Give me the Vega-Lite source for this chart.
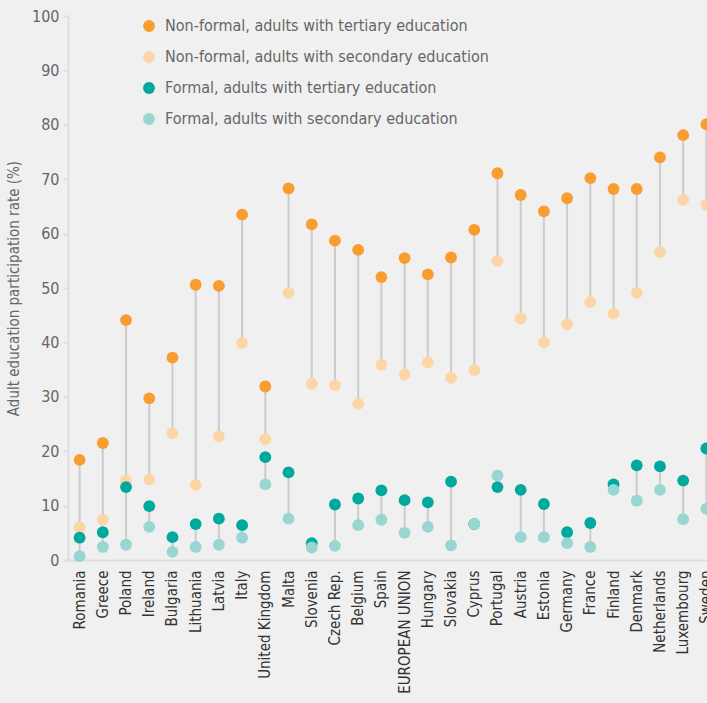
{
  "$schema": "https://vega.github.io/schema/vega-lite/v6.json",
  "autosize": {"type": "none"},
  "padding": {"left": 68, "top": 16, "right": 0, "bottom": 143},
  "width": 650,
  "height": 544,
  "background": "#f0f0f0",
  "config": {
    "view": {"stroke": null},
    "font": "Liberation Sans Narrow, DejaVu Sans Condensed, Roboto",
    "axis": {"labelFont": "Liberation Sans Narrow, DejaVu Sans Condensed, Roboto", "titleFont": "Liberation Sans Narrow, DejaVu Sans Condensed, Roboto"},
    "legend": {"labelFont": "Liberation Sans Narrow, DejaVu Sans Condensed, Roboto"}
  },
  "data": {"values": [
    {"country":"Romania","type":"NF","series":"Non-formal, adults with tertiary education","value":18.4},
    {"country":"Greece","type":"NF","series":"Non-formal, adults with tertiary education","value":21.5},
    {"country":"Poland","type":"NF","series":"Non-formal, adults with tertiary education","value":44.1},
    {"country":"Ireland","type":"NF","series":"Non-formal, adults with tertiary education","value":29.7},
    {"country":"Bulgaria","type":"NF","series":"Non-formal, adults with tertiary education","value":37.2},
    {"country":"Lithuania","type":"NF","series":"Non-formal, adults with tertiary education","value":50.6},
    {"country":"Latvia","type":"NF","series":"Non-formal, adults with tertiary education","value":50.4},
    {"country":"Italy","type":"NF","series":"Non-formal, adults with tertiary education","value":63.5},
    {"country":"United Kingdom","type":"NF","series":"Non-formal, adults with tertiary education","value":31.9},
    {"country":"Malta","type":"NF","series":"Non-formal, adults with tertiary education","value":68.3},
    {"country":"Slovenia","type":"NF","series":"Non-formal, adults with tertiary education","value":61.7},
    {"country":"Czech Rep.","type":"NF","series":"Non-formal, adults with tertiary education","value":58.7},
    {"country":"Belgium","type":"NF","series":"Non-formal, adults with tertiary education","value":57.0},
    {"country":"Spain","type":"NF","series":"Non-formal, adults with tertiary education","value":52.0},
    {"country":"EUROPEAN UNION","type":"NF","series":"Non-formal, adults with tertiary education","value":55.5},
    {"country":"Hungary","type":"NF","series":"Non-formal, adults with tertiary education","value":52.5},
    {"country":"Slovakia","type":"NF","series":"Non-formal, adults with tertiary education","value":55.6},
    {"country":"Cyprus","type":"NF","series":"Non-formal, adults with tertiary education","value":60.7},
    {"country":"Portugal","type":"NF","series":"Non-formal, adults with tertiary education","value":71.1},
    {"country":"Austria","type":"NF","series":"Non-formal, adults with tertiary education","value":67.1},
    {"country":"Estonia","type":"NF","series":"Non-formal, adults with tertiary education","value":64.1},
    {"country":"Germany","type":"NF","series":"Non-formal, adults with tertiary education","value":66.5},
    {"country":"France","type":"NF","series":"Non-formal, adults with tertiary education","value":70.2},
    {"country":"Finland","type":"NF","series":"Non-formal, adults with tertiary education","value":68.2},
    {"country":"Denmark","type":"NF","series":"Non-formal, adults with tertiary education","value":68.2},
    {"country":"Netherlands","type":"NF","series":"Non-formal, adults with tertiary education","value":74.0},
    {"country":"Luxembourg","type":"NF","series":"Non-formal, adults with tertiary education","value":78.1},
    {"country":"Sweden","type":"NF","series":"Non-formal, adults with tertiary education","value":80.1},

    {"country":"Romania","type":"NF","series":"Non-formal, adults with secondary education","value":6.0},
    {"country":"Greece","type":"NF","series":"Non-formal, adults with secondary education","value":7.4},
    {"country":"Poland","type":"NF","series":"Non-formal, adults with secondary education","value":14.6},
    {"country":"Ireland","type":"NF","series":"Non-formal, adults with secondary education","value":14.8},
    {"country":"Bulgaria","type":"NF","series":"Non-formal, adults with secondary education","value":23.3},
    {"country":"Lithuania","type":"NF","series":"Non-formal, adults with secondary education","value":13.8},
    {"country":"Latvia","type":"NF","series":"Non-formal, adults with secondary education","value":22.7},
    {"country":"Italy","type":"NF","series":"Non-formal, adults with secondary education","value":39.9},
    {"country":"United Kingdom","type":"NF","series":"Non-formal, adults with secondary education","value":22.2},
    {"country":"Malta","type":"NF","series":"Non-formal, adults with secondary education","value":49.1},
    {"country":"Slovenia","type":"NF","series":"Non-formal, adults with secondary education","value":32.4},
    {"country":"Czech Rep.","type":"NF","series":"Non-formal, adults with secondary education","value":32.1},
    {"country":"Belgium","type":"NF","series":"Non-formal, adults with secondary education","value":28.7},
    {"country":"Spain","type":"NF","series":"Non-formal, adults with secondary education","value":35.9},
    {"country":"EUROPEAN UNION","type":"NF","series":"Non-formal, adults with secondary education","value":34.1},
    {"country":"Hungary","type":"NF","series":"Non-formal, adults with secondary education","value":36.3},
    {"country":"Slovakia","type":"NF","series":"Non-formal, adults with secondary education","value":33.5},
    {"country":"Cyprus","type":"NF","series":"Non-formal, adults with secondary education","value":34.9},
    {"country":"Portugal","type":"NF","series":"Non-formal, adults with secondary education","value":55.0},
    {"country":"Austria","type":"NF","series":"Non-formal, adults with secondary education","value":44.4},
    {"country":"Estonia","type":"NF","series":"Non-formal, adults with secondary education","value":40.0},
    {"country":"Germany","type":"NF","series":"Non-formal, adults with secondary education","value":43.3},
    {"country":"France","type":"NF","series":"Non-formal, adults with secondary education","value":47.4},
    {"country":"Finland","type":"NF","series":"Non-formal, adults with secondary education","value":45.3},
    {"country":"Denmark","type":"NF","series":"Non-formal, adults with secondary education","value":49.1},
    {"country":"Netherlands","type":"NF","series":"Non-formal, adults with secondary education","value":56.6},
    {"country":"Luxembourg","type":"NF","series":"Non-formal, adults with secondary education","value":66.2},
    {"country":"Sweden","type":"NF","series":"Non-formal, adults with secondary education","value":65.3},

    {"country":"Romania","type":"F","series":"Formal, adults with tertiary education","value":4.1},
    {"country":"Greece","type":"F","series":"Formal, adults with tertiary education","value":5.1},
    {"country":"Poland","type":"F","series":"Formal, adults with tertiary education","value":13.4},
    {"country":"Ireland","type":"F","series":"Formal, adults with tertiary education","value":9.9},
    {"country":"Bulgaria","type":"F","series":"Formal, adults with tertiary education","value":4.2},
    {"country":"Lithuania","type":"F","series":"Formal, adults with tertiary education","value":6.6},
    {"country":"Latvia","type":"F","series":"Formal, adults with tertiary education","value":7.6},
    {"country":"Italy","type":"F","series":"Formal, adults with tertiary education","value":6.4},
    {"country":"United Kingdom","type":"F","series":"Formal, adults with tertiary education","value":18.9},
    {"country":"Malta","type":"F","series":"Formal, adults with tertiary education","value":16.1},
    {"country":"Slovenia","type":"F","series":"Formal, adults with tertiary education","value":3.1},
    {"country":"Czech Rep.","type":"F","series":"Formal, adults with tertiary education","value":10.2},
    {"country":"Belgium","type":"F","series":"Formal, adults with tertiary education","value":11.3},
    {"country":"Spain","type":"F","series":"Formal, adults with tertiary education","value":12.8},
    {"country":"EUROPEAN UNION","type":"F","series":"Formal, adults with tertiary education","value":11.0},
    {"country":"Hungary","type":"F","series":"Formal, adults with tertiary education","value":10.6},
    {"country":"Slovakia","type":"F","series":"Formal, adults with tertiary education","value":14.4},
    {"country":"Cyprus","type":"F","series":"Formal, adults with tertiary education","value":6.6},
    {"country":"Portugal","type":"F","series":"Formal, adults with tertiary education","value":13.4},
    {"country":"Austria","type":"F","series":"Formal, adults with tertiary education","value":12.9},
    {"country":"Estonia","type":"F","series":"Formal, adults with tertiary education","value":10.3},
    {"country":"Germany","type":"F","series":"Formal, adults with tertiary education","value":5.1},
    {"country":"France","type":"F","series":"Formal, adults with tertiary education","value":6.8},
    {"country":"Finland","type":"F","series":"Formal, adults with tertiary education","value":13.9},
    {"country":"Denmark","type":"F","series":"Formal, adults with tertiary education","value":17.4},
    {"country":"Netherlands","type":"F","series":"Formal, adults with tertiary education","value":17.2},
    {"country":"Luxembourg","type":"F","series":"Formal, adults with tertiary education","value":14.6},
    {"country":"Sweden","type":"F","series":"Formal, adults with tertiary education","value":20.5},

    {"country":"Romania","type":"F","series":"Formal, adults with secondary education","value":0.7},
    {"country":"Greece","type":"F","series":"Formal, adults with secondary education","value":2.4},
    {"country":"Poland","type":"F","series":"Formal, adults with secondary education","value":2.8},
    {"country":"Ireland","type":"F","series":"Formal, adults with secondary education","value":6.1},
    {"country":"Bulgaria","type":"F","series":"Formal, adults with secondary education","value":1.5},
    {"country":"Lithuania","type":"F","series":"Formal, adults with secondary education","value":2.4},
    {"country":"Latvia","type":"F","series":"Formal, adults with secondary education","value":2.8},
    {"country":"Italy","type":"F","series":"Formal, adults with secondary education","value":4.1},
    {"country":"United Kingdom","type":"F","series":"Formal, adults with secondary education","value":13.9},
    {"country":"Malta","type":"F","series":"Formal, adults with secondary education","value":7.6},
    {"country":"Slovenia","type":"F","series":"Formal, adults with secondary education","value":2.3},
    {"country":"Czech Rep.","type":"F","series":"Formal, adults with secondary education","value":2.6},
    {"country":"Belgium","type":"F","series":"Formal, adults with secondary education","value":6.4},
    {"country":"Spain","type":"F","series":"Formal, adults with secondary education","value":7.4},
    {"country":"EUROPEAN UNION","type":"F","series":"Formal, adults with secondary education","value":5.0},
    {"country":"Hungary","type":"F","series":"Formal, adults with secondary education","value":6.1},
    {"country":"Slovakia","type":"F","series":"Formal, adults with secondary education","value":2.7},
    {"country":"Cyprus","type":"F","series":"Formal, adults with secondary education","value":6.6},
    {"country":"Portugal","type":"F","series":"Formal, adults with secondary education","value":15.5},
    {"country":"Austria","type":"F","series":"Formal, adults with secondary education","value":4.2},
    {"country":"Estonia","type":"F","series":"Formal, adults with secondary education","value":4.2},
    {"country":"Germany","type":"F","series":"Formal, adults with secondary education","value":3.1},
    {"country":"France","type":"F","series":"Formal, adults with secondary education","value":2.4},
    {"country":"Finland","type":"F","series":"Formal, adults with secondary education","value":12.9},
    {"country":"Denmark","type":"F","series":"Formal, adults with secondary education","value":10.9},
    {"country":"Netherlands","type":"F","series":"Formal, adults with secondary education","value":12.9},
    {"country":"Luxembourg","type":"F","series":"Formal, adults with secondary education","value":7.5},
    {"country":"Sweden","type":"F","series":"Formal, adults with secondary education","value":9.4}
  ]},
  "encoding": {
    "x": {
      "field": "country", "type": "nominal", "sort": null,
      "scale": {"paddingInner": 0, "paddingOuter": 0},
      "axis": {
        "title": null, "labelAngle": -90, "labelAlign": "right", "labelBaseline": "middle",
        "labelFontSize": 15, "labelColor": "#333333", "labelPadding": 10, "labelLimit": 200,
        "ticks": false, "domain": true, "domainColor": "#dddddd", "domainWidth": 2, "grid": false
      }
    }
  },
  "layer": [
    {
      "mark": {"type": "rule", "color": "#cccccc", "strokeWidth": 2},
      "encoding": {
        "detail": {"field": "type"},
        "y": {"aggregate": "min", "field": "value", "type": "quantitative"},
        "y2": {"aggregate": "max", "field": "value"}
      }
    },
    {
      "mark": {"type": "point", "filled": true, "opacity": 1, "size": 140, "shape": "circle"},
      "encoding": {
        "y": {
          "field": "value", "type": "quantitative",
          "scale": {"domain": [0, 100], "nice": false},
          "axis": {
            "title": "Adult education participation rate (%)", "titleFontSize": 15, "titleFontWeight": "normal",
            "titleColor": "#666666", "titlePadding": 10,
            "values": [0,10,20,30,40,50,60,70,80,90,100],
            "labelFontSize": 16, "labelColor": "#666666", "labelPadding": 4,
            "domainColor": "#dddddd", "domainWidth": 2, "tickColor": "#dddddd", "tickSize": 5, "tickWidth": 2, "grid": false
          }
        },
        "color": {
          "field": "series", "type": "nominal", "sort": null,
          "scale": {
            "domain": ["Non-formal, adults with tertiary education", "Non-formal, adults with secondary education", "Formal, adults with tertiary education", "Formal, adults with secondary education"],
            "range": ["#f99d31", "#fdd6a8", "#00a99d", "#97d6d1"]
          },
          "legend": {
            "title": null, "orient": "none", "legendX": 73, "legendY": 2, "padding": 0,
            "symbolType": "circle", "symbolSize": 140, "symbolStrokeWidth": 0,
            "labelFontSize": 16, "labelColor": "#666666", "labelOffset": 8, "rowPadding": 15, "labelLimit": 400
          }
        }
      }
    }
  ]
}
